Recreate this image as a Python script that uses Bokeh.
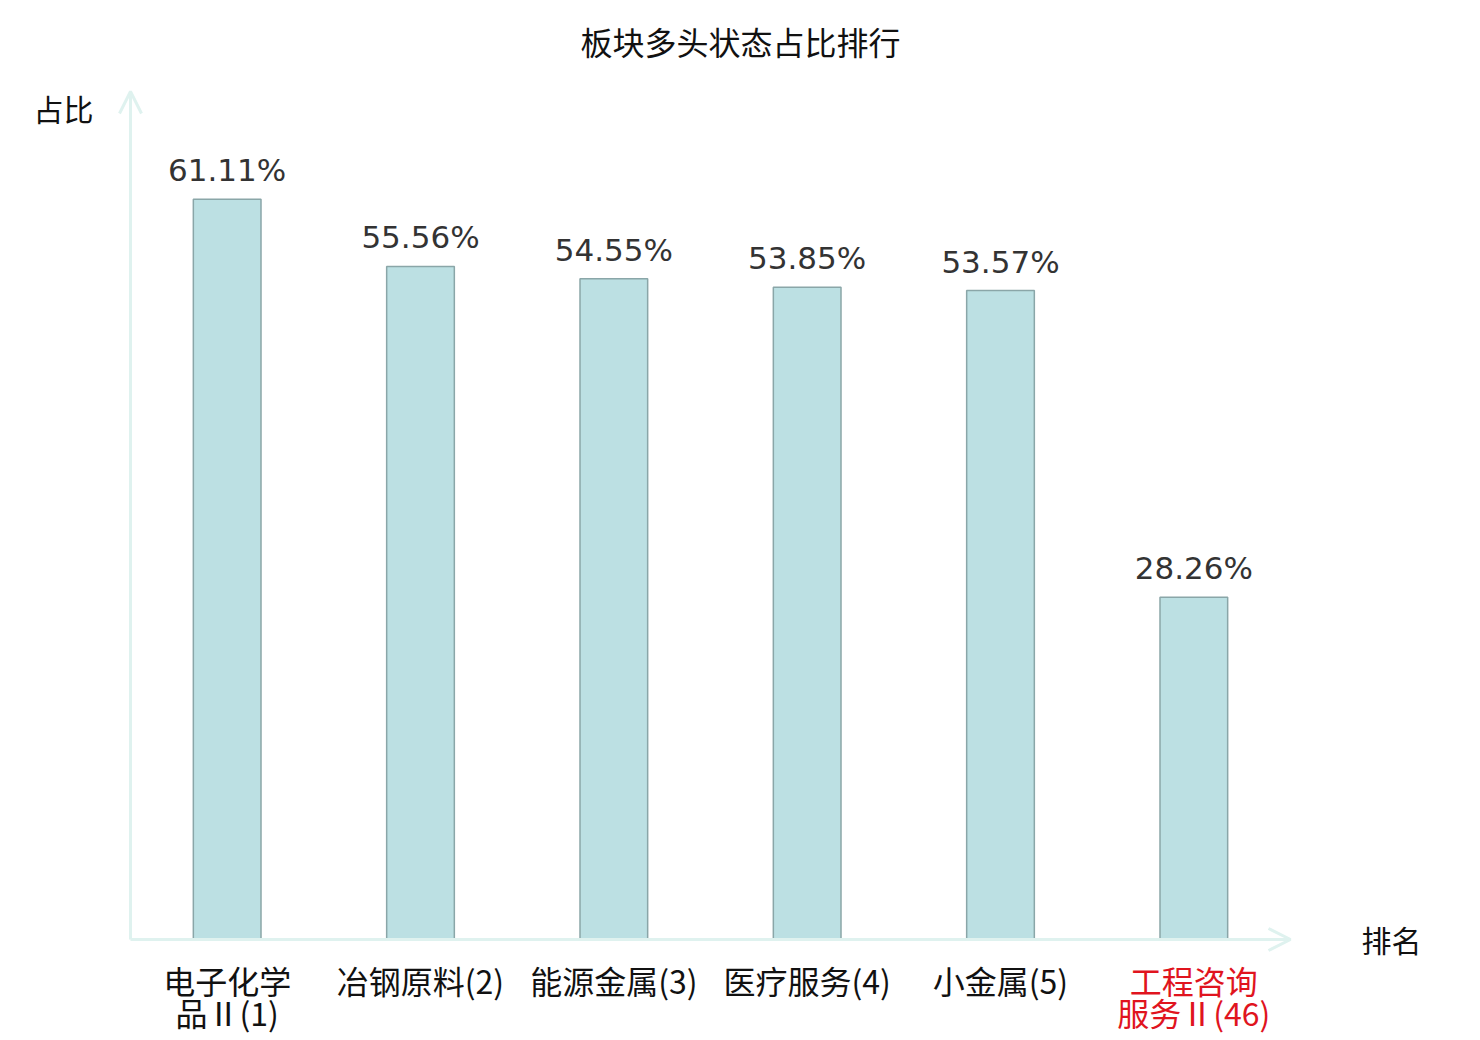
import numpy as np
from bokeh.plotting import figure
from bokeh.models import ColumnDataSource, Range1d, LabelSet, Label, Arrow, OpenHead
from bokeh.core.properties import value
from bokeh.embed import file_html
from bokeh.resources import INLINE

# ---- data ----
categories = ["电子化学品Ⅱ(1)", "冶钢原料(2)", "能源金属(3)", "医疗服务(4)", "小金属(5)", "工程咨询服务Ⅱ(46)"]
label_line1 = ["电子化学", "冶钢原料(2)", "能源金属(3)", "医疗服务(4)", "小金属(5)", "工程咨询"]
label_line2 = ["品Ⅱ(1)", "", "", "", "", "服务Ⅱ(46)"]
values = [61.11, 55.56, 54.55, 53.85, 53.57, 28.26]
value_text = ["61.11%", "55.56%", "54.55%", "53.85%", "53.57%", "28.26%"]
label_colors = ["#111111", "#111111", "#111111", "#111111", "#111111", "#e0141e"]
title_text = "板块多头状态占比排行"
y_name = "占比"
x_name = "排名"
y_max = 70

# ---- layout (pixels) ----
W, H = 1480, 1040
left_px, right_px, top_px, zero_px = 130, 1290, 91, 939
n = len(categories)
xu = (right_px - left_px) / n
yu = (zero_px - top_px) / y_max

CJK = "Noto Sans CJK SC"
LAT = "DejaVu Sans"
AXIS_COLOR = "#dff2ef"

xpos = np.arange(n) + 0.5
src = ColumnDataSource(dict(x=xpos, cat=categories, val=values, vtxt=value_text,
                            l1=label_line1, l2=label_line2, col=label_colors, zero=[0] * n))

p = figure(width=W, height=H,
           x_range=Range1d(-left_px / xu, n + (W - right_px) / xu),
           y_range=Range1d(-(H - zero_px) / yu, y_max + top_px / yu),
           output_backend="svg", toolbar_location=None, min_border=0)
p.axis.visible = False
p.grid.visible = False
p.outline_line_color = None

# axes with arrows
p.add_layout(Arrow(end=OpenHead(size=22, line_color=AXIS_COLOR, line_width=3),
                   x_start=0, y_start=0, x_end=n, y_end=0, line_color=AXIS_COLOR, line_width=3))
p.add_layout(Arrow(end=OpenHead(size=22, line_color=AXIS_COLOR, line_width=3),
                   x_start=0, y_start=0, x_end=0, y_end=y_max, line_color=AXIS_COLOR, line_width=3))

p.vbar(x="x", top="val", width=0.35, source=src, fill_color="#bce0e3", line_color="#8aa6a8", line_width=1.5)

# value labels
p.add_layout(LabelSet(x="x", y="val", text="vtxt", source=src, y_offset=18,
                      text_align="center", text_baseline="alphabetic",
                      text_font=value(LAT), text_font_size=value("31px"), text_color=value("#333333")))

# category labels (two lines)
for field, off in (("l1", -40), ("l2", -72)):
    p.add_layout(LabelSet(x="x", y="zero", text=field, source=src, y_offset=off,
                          text_align="center", text_baseline="middle",
                          text_font=value(CJK), text_font_size=value("32px"), text_color="col"))

# title and axis names
p.add_layout(Label(x=n / 2, y=y_max, x_offset=30, y_offset=51, text=title_text, text_align="center",
                   text_baseline="middle", text_font=CJK, text_font_size="32px", text_color="#111111"))
p.add_layout(Label(x=0, y=y_max, x_offset=-67, y_offset=-16, text=y_name, text_align="center",
                   text_baseline="middle", text_font=CJK, text_font_size="30px", text_color="#111111"))
p.add_layout(Label(x=n, y=0, x_offset=101, y_offset=1, text=x_name, text_align="center",
                   text_baseline="middle", text_font=CJK, text_font_size="30px", text_color="#111111"))

open("out.html", "w").write(file_html(p, INLINE))
